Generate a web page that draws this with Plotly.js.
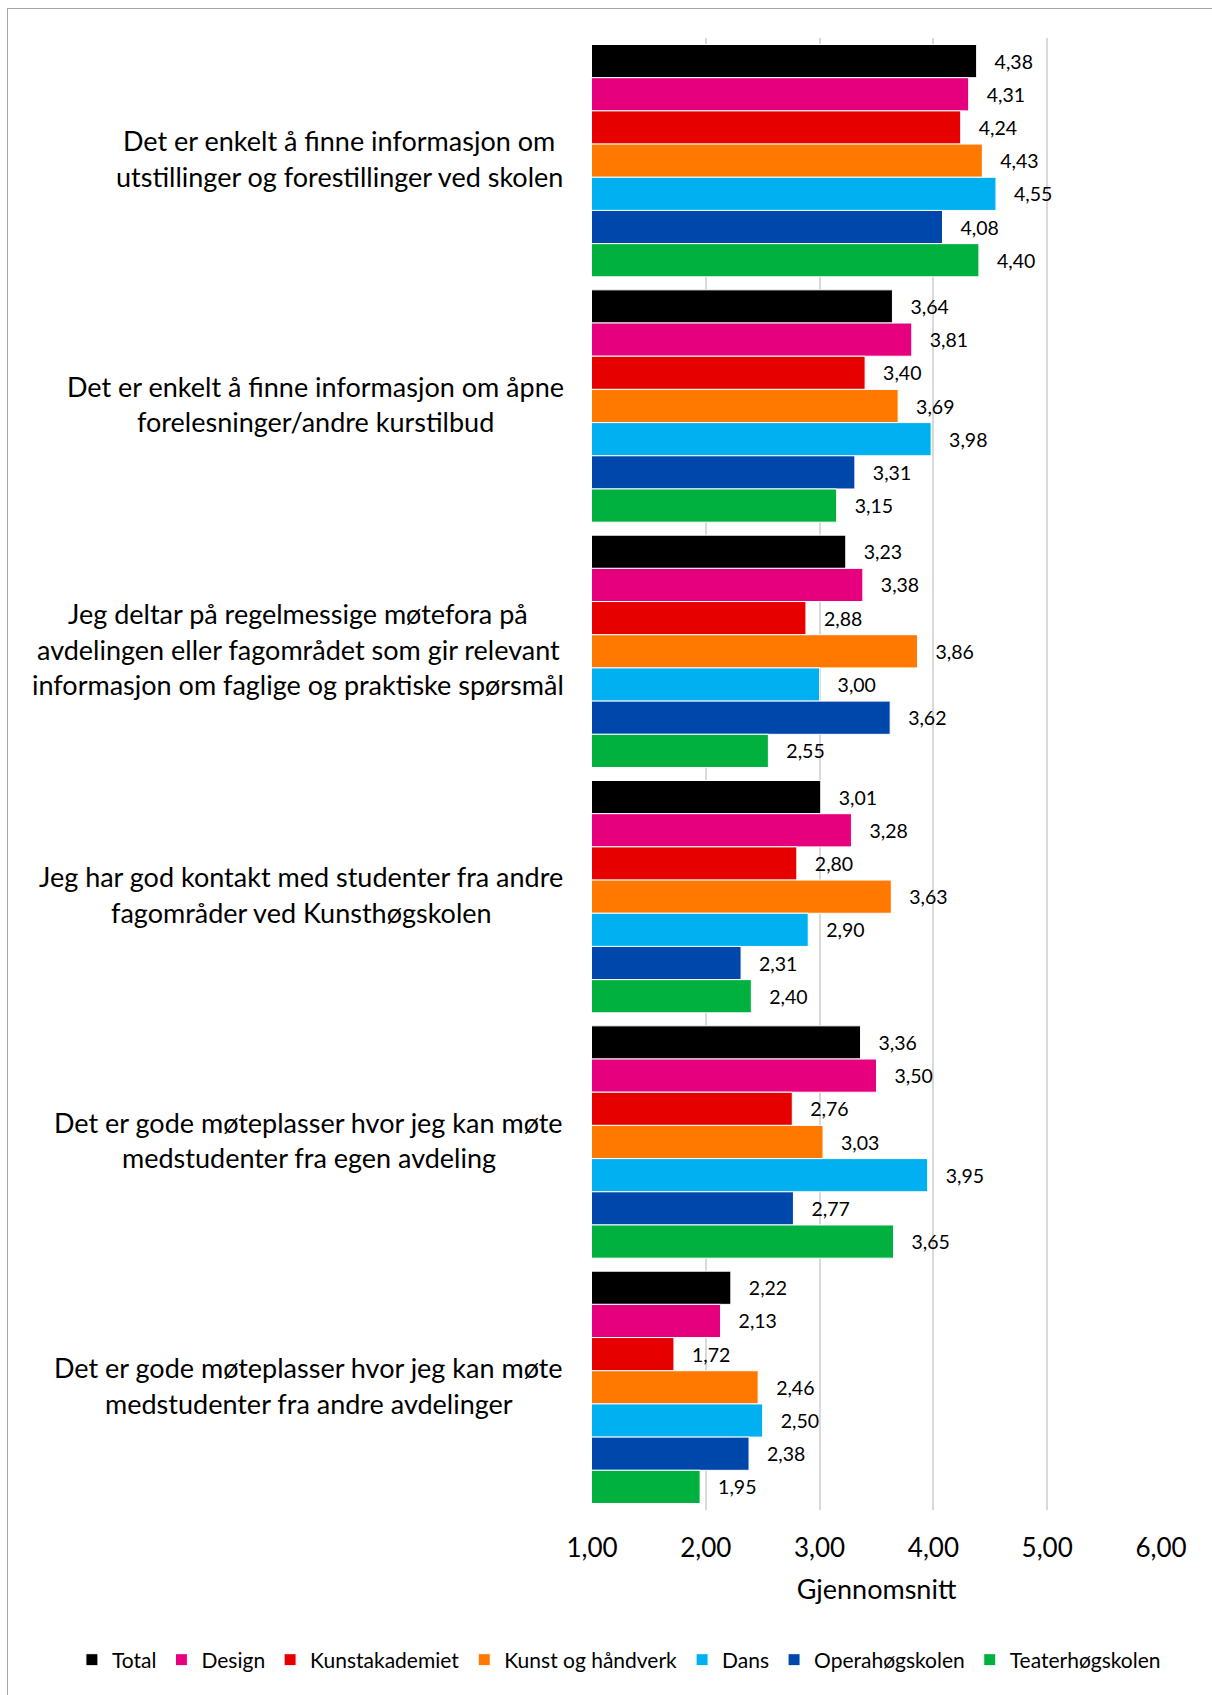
<!DOCTYPE html>
<html>
<head>
<meta charset="utf-8">
<script src="https://cdn.plot.ly/plotly-3.0.1.min.js"></script>
<style>
  html, body { margin: 0; padding: 0; overflow: hidden; background: #fff; }
  #ramme { position: absolute; left: 7px; top: 8px; width: 1240px; height: 1720px;
           border: 1.5px solid #a6a6a6; box-sizing: border-box; pointer-events: none; }
  #myDiv { width: 1212px; height: 1695px; }
</style>
</head>
<body>
<div id="myDiv"></div>
<div id="ramme"></div>
<script>
// Spørsmål (kategorier), linjer delt med <br>
var sporsmal = [
    "Det er enkelt å finne informasjon om<br>utstillinger og forestillinger ved skolen",
    "Det er enkelt å finne informasjon om åpne<br>forelesninger/andre kurstilbud",
    "Jeg deltar på regelmessige møtefora på<br>avdelingen eller fagområdet som gir relevant<br>informasjon om faglige og praktiske spørsmål",
    "Jeg har god kontakt med studenter fra andre<br>fagområder ved Kunsthøgskolen",
    "Det er gode møteplasser hvor jeg kan møte<br>medstudenter fra egen avdeling",
    "Det er gode møteplasser hvor jeg kan møte<br>medstudenter fra andre avdelinger"
];

// Serier
var serier = ["Total", "Design", "Kunstakademiet", "Kunst og håndverk", "Dans", "Operahøgskolen", "Teaterhøgskolen"];
var farger = ["#000000", "#e6007e", "#e60000", "#ff7800", "#00b0f0", "#0047ab", "#00b140"];

var total = [4.38, 3.64, 3.23, 3.01, 3.36, 2.22];
var design = [4.31, 3.81, 3.38, 3.28, 3.50, 2.13];
var kunstakademiet = [4.24, 3.40, 2.88, 2.80, 2.76, 1.72];
var kunstOgHandverk = [4.43, 3.69, 3.86, 3.63, 3.03, 2.46];
var dans = [4.55, 3.98, 3.00, 2.90, 3.95, 2.50];
var operahogskolen = [4.08, 3.31, 3.62, 2.31, 2.77, 2.38];
var teaterhogskolen = [4.40, 3.15, 2.55, 2.40, 3.65, 1.95];
var verdier = [total, design, kunstakademiet, kunstOgHandverk, dans, operahogskolen, teaterhogskolen];

var xTicks = [1, 2, 3, 4, 5, 6];

var FONT = "Lato, 'Open Sans', sans-serif";
var KAT_SIZE = 27;

// Spor
var data = [];
for (var s = 0; s < serier.length; s++) {
    data.push({
        type: 'bar',
        orientation: 'h',
        name: serier[s],
        y: sporsmal,
        x: verdier[s],
        marker: { color: farger[s], line: { color: '#ffffff', width: 1 } },
        texttemplate: '\u00a0\u00a0\u00a0%{x:.2f}',
        textposition: 'outside',
        constraintext: 'none',
        cliponaxis: false,
        textfont: { family: FONT, size: 19.5, color: '#000000' },
        hoverinfo: 'skip'
    });
}

// Kategoritekster som annotasjoner (midtstilte linjer, høyrejustert blokk)
var canvas = document.createElement('canvas');
var ctx = canvas.getContext('2d');
ctx.font = KAT_SIZE + 'px Lato';
var annotations = [];
for (var c = 0; c < sporsmal.length; c++) {
    var linjer = sporsmal[c].split('<br>');
    var maxW = 0;
    for (var k = 0; k < linjer.length; k++) {
        maxW = Math.max(maxW, ctx.measureText(linjer[k]).width);
    }
    for (var k = 0; k < linjer.length; k++) {
        annotations.push({
            text: linjer[k],
            xref: 'paper', x: 0, xanchor: 'center',
            xshift: -(28 + maxW / 2),
            yref: 'y', y: sporsmal[c], yanchor: 'middle',
            yshift: 2 - (k - (linjer.length - 1) / 2) * 35.5,
            showarrow: false,
            font: { family: FONT, size: KAT_SIZE, color: '#000000' }
        });
    }
}

var layout = {
    width: 1212,
    height: 1695,
    margin: { l: 592, r: 51, t: 38, b: 185 },
    paper_bgcolor: '#ffffff',
    plot_bgcolor: '#ffffff',
    barmode: 'group',
    bargap: 0.053,
    bargroupgap: 0,
    separators: ', ',
    font: { family: FONT, color: '#000000' },
    xaxis: {
        range: [1, 6],
        tickvals: xTicks,
        tickformat: '.2f',
        showgrid: true,
        gridcolor: '#d9d9d9',
        gridwidth: 2,
        zeroline: false,
        showline: false,
        ticks: '',
        ticklabelstandoff: 20,
        tickfont: { family: FONT, size: 26, color: '#000000' },
        title: { text: 'Gjennomsnitt', font: { family: FONT, size: 27, color: '#000000' }, standoff: 18 }
    },
    yaxis: {
        autorange: 'reversed',
        showticklabels: false,
        ticks: '',
        showgrid: false,
        zeroline: false,
        showline: false
    },
    annotations: annotations,
    showlegend: true,
    legend: {
        orientation: 'h',
        x: -0.914,
        xanchor: 'left',
        y: -0.088,
        yanchor: 'top',
        traceorder: 'normal',
        itemwidth: 30,
        font: { family: FONT, size: 21, color: '#000000' }
    }
};

var config = { staticPlot: true, responsive: false };

Plotly.newPlot('myDiv', data, layout, config);
</script>
</body>
</html>
